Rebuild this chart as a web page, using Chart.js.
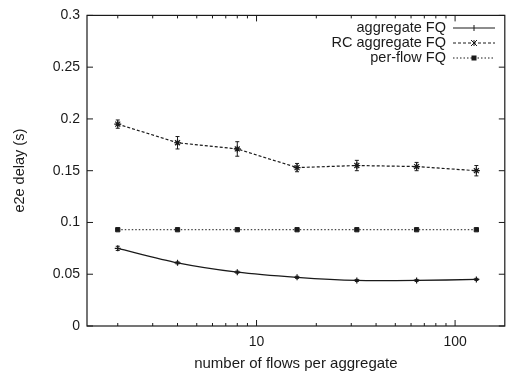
<!DOCTYPE html>
<html>
<head>
<meta charset="utf-8">
<script src="https://cdn.jsdelivr.net/npm/chart.js@4"></script>
<style>
  body { margin: 0; background: #fff; }
  #wrap { width: 510px; height: 373px; }
</style>
</head>
<body>
<div id="wrap"><canvas id="c" width="510" height="373"></canvas></div>
<script>
// data
const flows = [2, 4, 8, 16, 32, 64, 128];
const aggFQ = [0.075, 0.061, 0.052, 0.047, 0.044, 0.044, 0.045];
const aggFQErr = [0.002, 0.001, 0.001, 0.001, 0.001, 0.001, 0.001];
const rcFQ = [0.195, 0.177, 0.171, 0.153, 0.155, 0.154, 0.150];
const rcFQErr = [0.004, 0.006, 0.007, 0.004, 0.005, 0.004, 0.005];
const perFlowFQ = [0.093, 0.093, 0.093, 0.093, 0.093, 0.093, 0.093];
const yTicks = [0, 0.05, 0.1, 0.15, 0.2, 0.25, 0.3];
const xTicks = [10, 100];
const xMinor = [2, 3, 4, 5, 6, 7, 8, 9, 20, 30, 40, 50, 60, 70, 80, 90];
const legendNames = ['aggregate FQ', 'RC aggregate FQ', 'per-flow FQ'];

const ink = '#1a1a1a';
const fam = '"Liberation Sans", Arial, sans-serif';
const pts = arr => flows.map((x, i) => ({ x: x, y: arr[i] }));

// frame, inward ticks, error bars and the gnuplot-style key
const extras = {
  id: 'extras',
  afterDatasetsDraw(chart) {
    const ctx = chart.ctx, a = chart.chartArea;
    const xs = chart.scales.x, ys = chart.scales.y;
    ctx.save();
    ctx.strokeStyle = ink;
    ctx.lineWidth = 1.2;
    ctx.setLineDash([]);
    ctx.strokeRect(a.left, a.top, a.right - a.left, a.bottom - a.top);
    ctx.lineWidth = 1;
    ctx.beginPath();
    yTicks.forEach(v => {
      const y = ys.getPixelForValue(v);
      ctx.moveTo(a.left, y); ctx.lineTo(a.left + 6, y);
      ctx.moveTo(a.right, y); ctx.lineTo(a.right - 6, y);
    });
    xTicks.forEach(v => {
      const x = xs.getPixelForValue(v);
      ctx.moveTo(x, a.bottom); ctx.lineTo(x, a.bottom - 6);
      ctx.moveTo(x, a.top); ctx.lineTo(x, a.top + 6);
    });
    xMinor.forEach(v => {
      const x = xs.getPixelForValue(v);
      ctx.moveTo(x, a.bottom); ctx.lineTo(x, a.bottom - 3);
      ctx.moveTo(x, a.top); ctx.lineTo(x, a.top + 3);
    });
    ctx.stroke();

    // error bars
    [[aggFQ, aggFQErr], [rcFQ, rcFQErr]].forEach(([vals, errs]) => {
      ctx.beginPath();
      flows.forEach((f, i) => {
        const x = xs.getPixelForValue(f);
        const y1 = ys.getPixelForValue(vals[i] - errs[i]);
        const y2 = ys.getPixelForValue(vals[i] + errs[i]);
        ctx.moveTo(x, y1); ctx.lineTo(x, y2);
        ctx.moveTo(x - 2, y1); ctx.lineTo(x + 2, y1);
        ctx.moveTo(x - 2, y2); ctx.lineTo(x + 2, y2);
      });
      ctx.stroke();
    });

    // key
    ctx.font = '14.5px ' + fam;
    ctx.fillStyle = ink;
    ctx.textAlign = 'right';
    ctx.textBaseline = 'middle';
    chart.data.datasets.forEach((ds, i) => {
      const y = 28 + i * 15;
      ctx.fillText(legendNames[i], 446, y);
      ctx.setLineDash(ds.borderDash || []);
      ctx.beginPath();
      ctx.moveTo(453, y); ctx.lineTo(495, y);
      ctx.stroke();
      ctx.setLineDash([]);
      const cx = 474;
      if (i === 0) {
        ctx.beginPath();
        ctx.moveTo(cx, y - 3); ctx.lineTo(cx, y + 3);
        ctx.stroke();
      } else if (i === 1) {
        ctx.beginPath();
        ctx.moveTo(cx - 3, y - 3); ctx.lineTo(cx + 3, y + 3);
        ctx.moveTo(cx - 3, y + 3); ctx.lineTo(cx + 3, y - 3);
        ctx.moveTo(cx, y - 3); ctx.lineTo(cx, y + 3);
        ctx.stroke();
      } else {
        ctx.fillRect(cx - 2.5, y - 2.5, 5, 5);
      }
    });
    ctx.restore();
  }
};

new Chart(document.getElementById('c'), {
  type: 'line',
  data: {
    datasets: [
      {
        label: legendNames[0], data: pts(aggFQ),
        borderColor: ink, borderWidth: 1.3, borderDash: [],
        pointStyle: 'cross', pointRadius: 3, pointBorderColor: ink, pointBorderWidth: 1.2,
        tension: 0.25
      },
      {
        label: legendNames[1], data: pts(rcFQ),
        borderColor: ink, borderWidth: 1.2, borderDash: [3, 2],
        pointStyle: 'star', pointRadius: 3.5, pointBorderColor: ink, pointBorderWidth: 1.2,
        tension: 0
      },
      {
        label: legendNames[2], data: pts(perFlowFQ),
        borderColor: ink, borderWidth: 1, borderDash: [1.5, 2],
        pointStyle: 'rect', pointRadius: 3, pointBackgroundColor: ink, pointBorderColor: ink,
        tension: 0
      }
    ]
  },
  options: {
    responsive: false,
    animation: false,
    layout: { padding: { left: 0, right: 2, top: 15, bottom: 0 } },
    plugins: { legend: { display: false }, tooltip: { enabled: false } },
    scales: {
      x: {
        type: 'logarithmic', min: 1.4, max: 178,
        afterBuildTicks: s => { s.ticks = xTicks.map(v => ({ value: v })); },
        afterFit: s => { s.height = 47; },
        grid: { display: false, drawTicks: false },
        border: { display: false },
        ticks: {
          color: ink, padding: 8, maxRotation: 0,
          font: { family: fam, size: 14 },
          callback: v => String(v)
        },
        title: {
          display: true, text: 'number of flows per aggregate', color: ink,
          font: { family: fam, size: 15 },
          padding: { top: 9, bottom: 0 }
        }
      },
      y: {
        min: 0, max: 0.3,
        afterBuildTicks: s => { s.ticks = yTicks.map(v => ({ value: v })); },
        afterFit: s => { s.width = 87; },
        grid: { display: false, drawTicks: false },
        border: { display: false },
        ticks: {
          color: ink, padding: 7,
          font: { family: fam, size: 14 },
          callback: v => String(+v.toFixed(2))
        },
        title: {
          display: true, text: 'e2e delay (s)', color: ink,
          font: { family: fam, size: 14.5 },
          padding: { top: 11, bottom: 0 }
        }
      }
    }
  },
  plugins: [extras]
});
</script>
</body>
</html>
